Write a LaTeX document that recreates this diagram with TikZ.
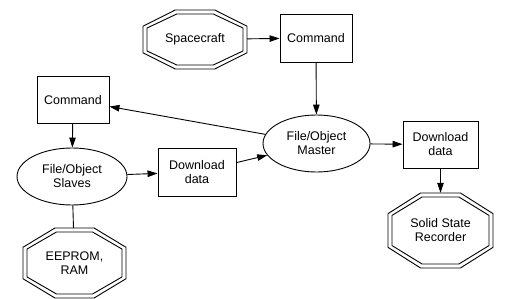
\documentclass[tikz,border=0pt]{standalone}
\usepackage{fontspec}
\setmainfont{Liberation Sans}
\usetikzlibrary{arrows.meta,shapes.geometric,calc}
\newcommand\dbloct[3]{%
  \foreach \g in {0,4}{%
    \pgfmathsetmacro\oa{#2-\g}%
    \pgfmathsetmacro\ob{0.45*(#3-\g)}%
    \pgfmathsetmacro\oc{0.38*(#2-\g)}%
    \pgfmathsetmacro\od{#3-\g}%
    \draw[lw, shift={(#1.center)}] (\oa,\ob) -- (\oc,\od) -- (-\oc,\od) -- (-\oa,\ob)
      -- (-\oa,-\ob) -- (-\oc,-\od) -- (\oc,-\od) -- (\oa,-\ob) -- cycle;
  }}
\begin{document}
\begin{tikzpicture}[x=1pt,y=-1pt,
  lw/.style={line width=0.9pt},
  every node/.style={font=\fontsize{12.5}{14}\selectfont, align=center, inner sep=0pt},
  boxnode/.style={draw, lw, minimum width=#1},
  ellnode/.style={draw, lw, ellipse, minimum width=110pt, minimum height=57pt},
  octnode/.style={draw=none},
  arr/.style={lw, -{Triangle[length=10pt,width=6.5pt]}},
  ln/.style={lw}]
\useasboundingbox (0,0) rectangle (511,299);
\node[octnode, minimum width=104pt, minimum height=59pt] (sc) at (195,39.5) {Spacecraft};
\node[boxnode=72pt, minimum height=48pt] (cmdT) at (316,38) {Command};
\node[boxnode=72pt, minimum height=47pt] (cmdL) at (73,100) {Command};
\node[ellnode] (slv) at (72,176.5) {File/Object\\Slaves};
\node[boxnode=78pt, minimum height=48pt] (dlL) at (197,172) {Download\\data};
\node[ellnode, minimum width=107pt] (mst) at (316.5,143.5) {File/Object\\Master};
\node[boxnode=75pt, minimum height=47pt] (dlR) at (440.5,144.5) {Download\\data};
\node[octnode, minimum width=105pt, minimum height=75pt] (ssr) at (440.5,230.5) {Solid State\\Recorder};
\node[octnode, minimum width=103pt, minimum height=70pt] (eep) at (74.5,263) {EEPROM,\\RAM};
\dbloct{sc}{52}{29.5}
\dbloct{ssr}{52.5}{37.5}
\dbloct{eep}{51.5}{35}
\draw[arr] (sc) -- (cmdT);
\draw[arr] (cmdT) -- (mst);
\draw[arr] (mst) -- (cmdL);
\draw[arr] (cmdL) -- (slv);
\draw[arr] (slv) -- (dlL);
\draw[arr] (dlL) -- (mst);
\draw[arr] (mst) -- (dlR);
\draw[arr] (dlR) -- (ssr);
\draw[ln] (slv) -- (eep);
\end{tikzpicture}
\end{document}
